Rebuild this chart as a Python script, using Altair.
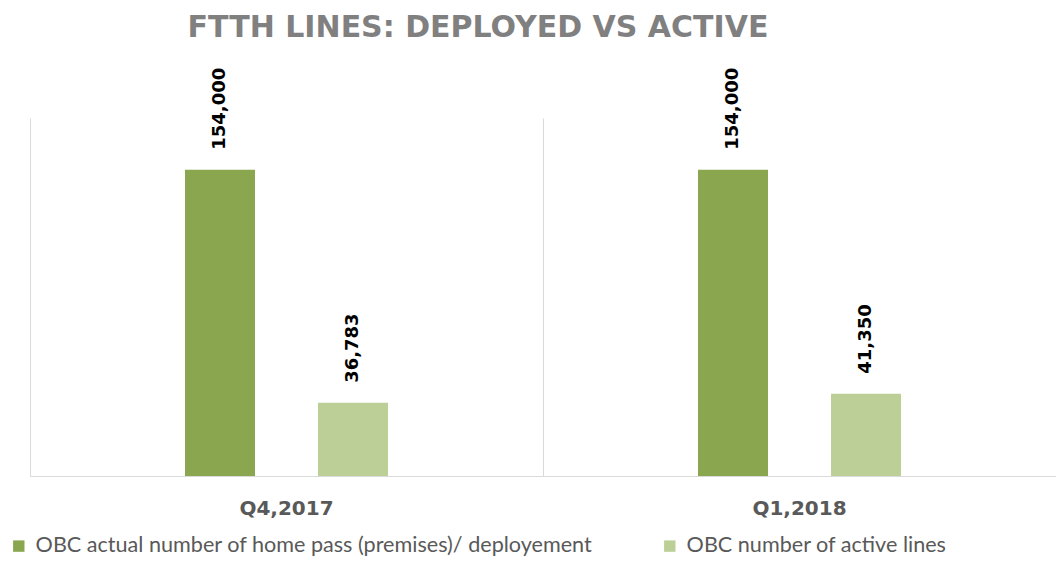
import altair as alt
import pandas as pd

quarters = ["Q4,2017", "Q1,2018"]
series = ["OBC actual number of home pass (premises)/ deployement", "OBC number of active lines"]
deployed = [154000, 154000]
active = [36783, 41350]
colors = ["#8AA64E", "#BCCF97"]

rows = []
for i, q in enumerate(quarters):
    rows.append({"quarter": q, "series": series[0], "value": deployed[i], "label": f"{deployed[i]:,}"})
    rows.append({"quarter": q, "series": series[1], "value": active[i], "label": f"{active[i]:,}"})
df = pd.DataFrame(rows)

x = alt.X("quarter:N", sort=quarters, title=None,
          scale=alt.Scale(paddingInner=0, paddingOuter=0),
          axis=alt.Axis(labelAngle=0, labelFont="DejaVu Sans", labelFontWeight="bold",
                        labelFontSize=20, labelColor="#595959", labelPadding=22,
                        ticks=False, domainColor="#D9D9D9", domainWidth=1,
                        grid=True, gridColor="#D9D9D9", bandPosition=0))
xoff = alt.XOffset("series:N", sort=series,
                   scale=alt.Scale(range=[155, 358], paddingInner=0.4737, paddingOuter=0))
y = alt.Y("value:Q", scale=alt.Scale(domain=[0, 180000]), axis=None)

bars = alt.Chart(df).mark_bar().encode(
    x=x, xOffset=xoff, y=y,
    color=alt.Color("series:N", sort=series,
                    scale=alt.Scale(domain=series, range=colors),
                    legend=alt.Legend(title=None, orient="none", direction="horizontal",
                                      legendX=-22, legendY=417, padding=0,
                                      symbolType="square", symbolSize=130,
                                      symbolStrokeWidth=0, symbolOffset=0,
                                      labelFont="Lato", labelFontSize=21.6, labelOffset=6,
                                      labelColor="#595959", labelLimit=700,
                                      columnPadding=66)),
)

labels = alt.Chart(df).mark_text(angle=270, align="left", baseline="middle", dx=20,
                                 font="DejaVu Sans", fontWeight="bold", fontSize=18,
                                 color="#000000").encode(
    x=x, xOffset=xoff, y=y, text="label:N")

right_edge = alt.Chart(df).mark_text(opacity=0).encode(
    y=alt.Y("value:Q", scale=alt.Scale(domain=[0, 180000]),
            axis=alt.Axis(orient="right", labels=False, ticks=False, title=None,
                          grid=False, domainColor="#D9D9D9", domainWidth=1)),
    x=x, text="label:N")

chart = alt.layer(bars, labels, right_edge).resolve_axis(y="independent").properties(
    width=1026, height=358,
    title=alt.TitleParams("FTTH LINES: DEPLOYED VS ACTIVE", font="DejaVu Sans",
                          fontSize=30, fontWeight="bold", color="#808080",
                          anchor="middle", dx=-65, offset=25),
    autosize=alt.AutoSizeParams(type="none"),
    padding={"left": 22, "top": 110, "right": 0, "bottom": 84},
).configure_view(stroke=None)

chart.save("out.html", embed_options={"renderer": "svg", "actions": False})
